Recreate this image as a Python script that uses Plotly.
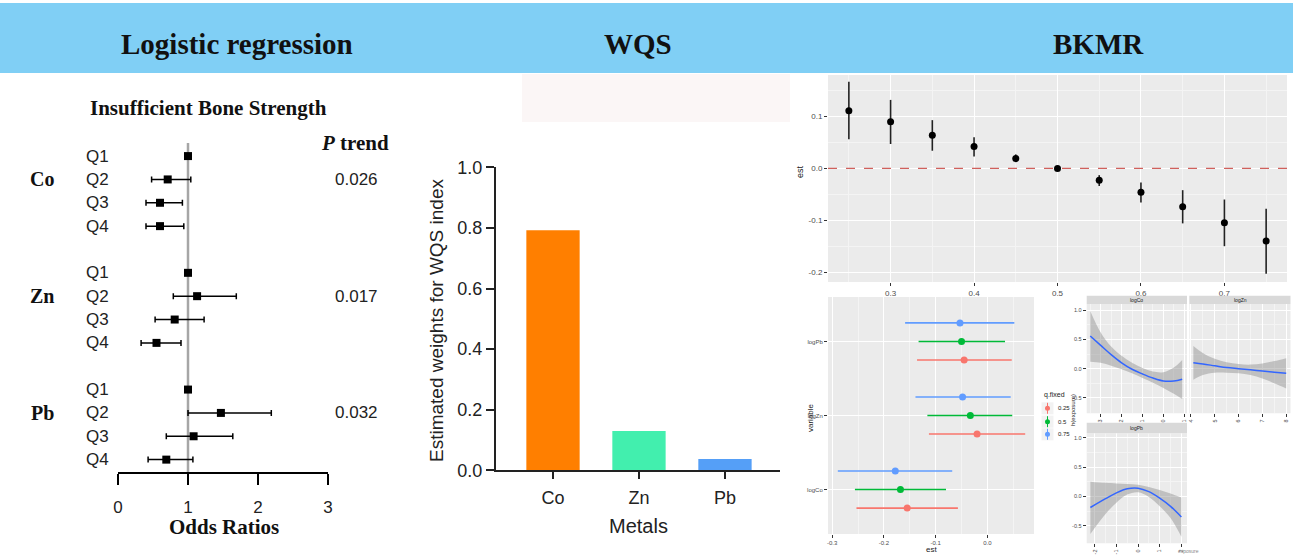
import plotly.graph_objects as go

W, H = 1293, 560
def px(x): return x / W
def py(y): return 1 - y / H

SANS = "Liberation Sans"
SERIF = "Liberation Serif"

# ---------------- data: logistic regression (odds ratios) ----------------
metals = ["Co", "Zn", "Pb"]
quartiles = ["Q1", "Q2", "Q3", "Q4"]
or_co = [1.00, 0.71, 0.60, 0.60]
lo_co = [1.00, 0.48, 0.40, 0.40]
hi_co = [1.00, 1.04, 0.92, 0.94]
or_zn = [1.00, 1.13, 0.81, 0.55]
lo_zn = [1.00, 0.79, 0.53, 0.33]
hi_zn = [1.00, 1.69, 1.23, 0.90]
or_pb = [1.00, 1.47, 1.08, 0.69]
lo_pb = [1.00, 1.00, 0.69, 0.43]
hi_pb = [1.00, 2.19, 1.64, 1.07]
p_trend = ["0.026", "0.017", "0.032"]
or_ticks = [0, 1, 2, 3]

# ---------------- data: WQS ----------------
wqs_metals = ["Co", "Zn", "Pb"]
wqs_weights = [0.792, 0.130, 0.037]
wqs_colors = ["#FF7F00", "#42EFAE", "#559FF7"]

# ---------------- data: BKMR overall ----------------
bkmr_quantiles = [0.25, 0.30, 0.35, 0.40, 0.45, 0.50, 0.55, 0.60, 0.65, 0.70, 0.75]
bkmr_est = [0.111, 0.090, 0.064, 0.042, 0.019, 0.000, -0.023, -0.046, -0.074, -0.105, -0.140]
bkmr_lo = [0.056, 0.047, 0.034, 0.023, 0.012, 0.000, -0.034, -0.066, -0.106, -0.150, -0.203]
bkmr_hi = [0.167, 0.132, 0.093, 0.060, 0.027, 0.000, -0.013, -0.027, -0.042, -0.060, -0.078]

# ---------------- data: BKMR single-variable effects ----------------
variables = ["logCo", "logZn", "logPb"]
q_fixed = ["0.25", "0.5", "0.75"]
q_colors = ["#F8766D", "#00BA38", "#619CFF"]
est_q25 = [-0.155, -0.020, -0.045]
lo_q25 = [-0.253, -0.113, -0.136]
hi_q25 = [-0.057, 0.073, 0.047]
est_q50 = [-0.168, -0.033, -0.050]
lo_q50 = [-0.256, -0.116, -0.133]
hi_q50 = [-0.080, 0.048, 0.034]
est_q75 = [-0.178, -0.048, -0.053]
lo_q75 = [-0.289, -0.139, -0.159]
hi_q75 = [-0.068, 0.045, 0.052]

# ---------------- data: BKMR exposure-response ----------------
co_x = [-3.5, -3.0, -2.5, -2.0, -1.5, -1.0, -0.5, 0.0, 0.5, 0.9]
co_h = [0.56, 0.40, 0.24, 0.10, -0.01, -0.09, -0.16, -0.21, -0.21, -0.18]
co_hi = [0.99, 0.62, 0.38, 0.22, 0.10, 0.01, -0.05, -0.06, 0.02, 0.15]
co_lo = [0.12, 0.10, 0.05, -0.01, -0.08, -0.16, -0.24, -0.33, -0.43, -0.52]
zn_x = [4.1, 4.5, 5.0, 5.5, 6.0, 6.5, 7.0, 7.5, 8.0]
zn_h = [0.10, 0.08, 0.05, 0.02, 0.00, -0.02, -0.04, -0.06, -0.08]
zn_hi = [0.39, 0.27, 0.17, 0.11, 0.08, 0.07, 0.09, 0.13, 0.18]
zn_lo = [-0.19, -0.11, -0.07, -0.07, -0.08, -0.11, -0.17, -0.25, -0.34]
pb_x = [-2.2, -1.5, -1.0, -0.5, 0.0, 0.5, 1.0, 1.5, 2.0]
pb_h = [-0.19, -0.04, 0.06, 0.13, 0.14, 0.08, -0.03, -0.17, -0.35]
pb_hi = [0.25, 0.23, 0.22, 0.21, 0.20, 0.16, 0.11, 0.05, -0.02]
pb_lo = [-0.64, -0.30, -0.11, 0.03, 0.07, -0.01, -0.17, -0.37, -0.69]

fig = go.Figure()

# ---- forest plot ----
for m, (est, lo, hi) in enumerate(zip([or_co, or_zn, or_pb], [lo_co, lo_zn, lo_pb], [hi_co, hi_zn, hi_pb])):
    rows = [5 * m + q for q in range(len(quartiles))]
    fig.add_trace(go.Scatter(
        x=est, y=rows, mode="markers",
        marker=dict(symbol="square", size=8, color="black"),
        error_x=dict(type="data", symmetric=False,
                     array=[h - e for h, e in zip(hi, est)],
                     arrayminus=[e - l for e, l in zip(est, lo)],
                     color="black", thickness=1.5, width=3),
        xaxis="x", yaxis="y", showlegend=False, cliponaxis=False, hoverinfo="skip"))

# ---- WQS bars ----
fig.add_trace(go.Bar(x=wqs_metals, y=wqs_weights, marker=dict(color=wqs_colors, line=dict(width=0)),
                     width=0.62, xaxis="x2", yaxis="y2", showlegend=False, hoverinfo="skip"))

# ---- BKMR overall ----
fig.add_trace(go.Scatter(
    x=bkmr_quantiles, y=bkmr_est, mode="markers",
    marker=dict(size=7, color="black"),
    error_y=dict(type="data", symmetric=False,
                 array=[h - e for h, e in zip(bkmr_hi, bkmr_est)],
                 arrayminus=[e - l for e, l in zip(bkmr_est, bkmr_lo)],
                 color="#222222", thickness=1.6, width=0),
    xaxis="x3", yaxis="y3", showlegend=False, hoverinfo="skip"))

# ---- BKMR single-variable ----
offsets = [-0.25, 0.0, 0.25]
for qi, (est, lo, hi) in enumerate(zip([est_q25, est_q50, est_q75], [lo_q25, lo_q50, lo_q75], [hi_q25, hi_q50, hi_q75])):
    ys = [i + 1 + offsets[qi] for i in range(len(variables))]
    fig.add_trace(go.Scatter(
        x=est, y=ys, mode="markers",
        marker=dict(size=7, color=q_colors[qi]),
        error_x=dict(type="data", symmetric=False,
                     array=[h - e for h, e in zip(hi, est)],
                     arrayminus=[e - l for e, l in zip(est, lo)],
                     color=q_colors[qi], thickness=1.6, width=0),
        xaxis="x4", yaxis="y4", showlegend=False, hoverinfo="skip"))

# ---- BKMR exposure-response facets ----
for (xs, h, hi, lo, xa, ya) in [(co_x, co_h, co_hi, co_lo, "x5", "y5"),
                                (zn_x, zn_h, zn_hi, zn_lo, "x6", "y6"),
                                (pb_x, pb_h, pb_hi, pb_lo, "x7", "y7")]:
    fig.add_trace(go.Scatter(x=xs, y=lo, mode="lines", line=dict(width=0, shape="spline"),
                             xaxis=xa, yaxis=ya, showlegend=False, hoverinfo="skip"))
    fig.add_trace(go.Scatter(x=xs, y=hi, mode="lines", line=dict(width=0, shape="spline"),
                             fill="tonexty", fillcolor="rgba(140,140,140,0.45)",
                             xaxis=xa, yaxis=ya, showlegend=False, hoverinfo="skip"))
    fig.add_trace(go.Scatter(x=xs, y=h, mode="lines", line=dict(width=1.5, color="#3366FF", shape="spline"),
                             xaxis=xa, yaxis=ya, showlegend=False, hoverinfo="skip"))

# ---------------- axes ----------------
gg_font8 = dict(family=SANS, size=8, color="#4D4D4D")
gg_font6 = dict(family=SANS, size=6, color="#4D4D4D")
gg_font5 = dict(family=SANS, size=5.5, color="#4D4D4D")

def gg_axis(**kw):
    d = dict(showgrid=True, gridcolor="white", gridwidth=1, zeroline=False, showline=False,
             ticks="outside", ticklen=3, tickwidth=1, tickcolor="#333333", automargin=False)
    d.update(kw)
    return d

layout = dict(
    width=W, height=H, margin=dict(l=0, r=0, t=0, b=0, pad=0, autoexpand=False),
    paper_bgcolor="white", plot_bgcolor="rgba(0,0,0,0)", showlegend=False,
    xaxis=dict(domain=[px(118), px(328)], range=[0, 3], anchor="y", automargin=False,
               showline=True, linecolor="black", linewidth=2, ticks="outside", ticklen=11,
               tickwidth=2, tickcolor="black", tickvals=or_ticks, ticklabelstandoff=8,
               tickfont=dict(family=SANS, size=17, color="#222"), showgrid=False, zeroline=False),
    yaxis=dict(domain=[py(472), py(143)], range=[13.53, -0.56], anchor="x", visible=False, automargin=False),
    xaxis2=dict(domain=[px(496), px(780)], anchor="y2", type="category", range=[-0.663, 2.64],
                showline=True, linecolor="#222", linewidth=2, ticks="outside", ticklen=7, tickwidth=2,
                tickcolor="#222", tickfont=dict(family=SANS, size=18, color="#222"), showgrid=False,
                zeroline=False, ticklabelstandoff=3, automargin=False),
    yaxis2=dict(domain=[py(470.3), py(167.3)], anchor="x2", range=[0, 1], dtick=0.2, tick0=0,
                tickformat=".1f", showline=True, linecolor="#222", linewidth=2, ticks="outside",
                ticklen=8, tickwidth=2, tickcolor="#222", automargin=False,
                tickfont=dict(family=SANS, size=18, color="#222"), showgrid=False, zeroline=False),
    xaxis3=gg_axis(domain=[px(828), px(1287)], anchor="y3", range=[0.225, 0.775],
                   tickvals=[0.3, 0.4, 0.5, 0.6, 0.7], ticktext=["0.3", "0.4", "0.5", "0.6", "0.7"],
                   tickfont=gg_font8,
                   minor=dict(tickvals=[0.25, 0.35, 0.45, 0.55, 0.65, 0.75], showgrid=True,
                              gridcolor="#F4F4F4", gridwidth=0.6)),
    yaxis3=gg_axis(domain=[py(282), py(75)], anchor="x3", range=[-0.219, 0.18],
                   tickvals=[-0.2, -0.1, 0.0, 0.1], ticktext=["-0.2", "-0.1", "0.0", "0.1"],
                   tickfont=gg_font8,
                   minor=dict(tickvals=[-0.15, -0.05, 0.05, 0.15], showgrid=True,
                              gridcolor="#F4F4F4", gridwidth=0.6)),
    xaxis4=gg_axis(domain=[px(828), px(1034)], anchor="y4", range=[-0.308, 0.09],
                   tickvals=[-0.3, -0.2, -0.1, 0.0], ticktext=["-0.3", "-0.2", "-0.1", "0.0"],
                   tickfont=gg_font6,
                   minor=dict(tickvals=[-0.25, -0.15, -0.05, 0.05], showgrid=True,
                              gridcolor="#F4F4F4", gridwidth=0.6)),
    yaxis4=gg_axis(domain=[py(534), py(297)], anchor="x4", range=[0.4, 3.6],
                   tickvals=[1, 2, 3], ticktext=variables, tickfont=gg_font6),
    xaxis5=gg_axis(domain=[px(1086.7), px(1187)], anchor="y5", range=[-3.67, 1.13],
                   tickvals=[-3, -2, -1, 0, 1], ticktext=["-3", "-2", "-1", "0", "1"], tickfont=gg_font5,
                   tickangle=-90,
                   minor=dict(tickvals=[-3.5, -2.5, -1.5, -0.5, 0.5], showgrid=True,
                              gridcolor="#F4F4F4", gridwidth=0.5)),
    yaxis5=gg_axis(domain=[py(413.3), py(304)], anchor="x5", range=[-0.764, 1.108],
                   tickvals=[-0.5, 0, 0.5, 1.0], ticktext=["-0.5", "0.0", "0.5", "1.0"], tickfont=gg_font5,
                   minor=dict(tickvals=[-0.25, 0.25, 0.75], showgrid=True, gridcolor="#F4F4F4", gridwidth=0.5)),
    xaxis6=gg_axis(domain=[px(1189.3), px(1290.5)], anchor="y6", range=[3.93, 8.18],
                   tickvals=[4, 5, 6, 7, 8], ticktext=["4", "5", "6", "7", "8"], tickfont=gg_font5,
                   tickangle=-90,
                   minor=dict(tickvals=[4.5, 5.5, 6.5, 7.5], showgrid=True, gridcolor="#F4F4F4", gridwidth=0.5)),
    yaxis6=gg_axis(domain=[py(413.3), py(304)], anchor="x6", range=[-0.764, 1.108],
                   tickvals=[-0.5, 0, 0.5, 1.0], showticklabels=False, ticks="",
                   minor=dict(tickvals=[-0.25, 0.25, 0.75], showgrid=True, gridcolor="#F4F4F4", gridwidth=0.5)),
    xaxis7=gg_axis(domain=[px(1086.7), px(1187)], anchor="y7", range=[-2.37, 2.26],
                   tickvals=[-2, -1, 0, 1, 2], ticktext=["-2", "-1", "0", "1", "2"], tickfont=gg_font5,
                   tickangle=-90,
                   minor=dict(tickvals=[-1.5, -0.5, 0.5, 1.5], showgrid=True, gridcolor="#F4F4F4", gridwidth=0.5)),
    yaxis7=gg_axis(domain=[py(543.3), py(433.3)], anchor="x7", range=[-0.80, 1.075],
                   tickvals=[-0.5, 0, 0.5, 1.0], ticktext=["-0.5", "0.0", "0.5", "1.0"], tickfont=gg_font5,
                   minor=dict(tickvals=[-0.25, 0.25, 0.75], showgrid=True, gridcolor="#F4F4F4", gridwidth=0.5)),
)
fig.update_layout(**layout)

# ---------------- shapes ----------------
shapes = []
# header band
shapes.append(dict(type="rect", xref="paper", yref="paper", x0=0, x1=1, y0=py(73), y1=py(3),
                   fillcolor="#80CFF5", line=dict(width=0), layer="below"))
# faint box above WQS
shapes.append(dict(type="rect", xref="paper", yref="paper", x0=px(522), x1=px(790), y0=py(122), y1=py(74),
                   fillcolor="#FBF6F6", line=dict(width=0), layer="below"))
# OR = 1 reference line
shapes.append(dict(type="line", xref="x", yref="paper", x0=1, x1=1, y0=py(472), y1=py(143),
                   line=dict(color="#A6A6A6", width=2.5), layer="below"))
# ggplot panel backgrounds
for ax in ["3", "4", "5", "6", "7"]:
    shapes.append(dict(type="rect", xref=f"x{ax} domain", yref=f"y{ax} domain", x0=0, x1=1, y0=0, y1=1,
                       fillcolor="#EBEBEB", line=dict(width=0), layer="below"))
# dashed zero line in BKMR overall
shapes.append(dict(type="line", xref="x3 domain", yref="y3", x0=0, x1=1, y0=0, y1=0,
                   line=dict(color="#D0605C", width=1.2, dash="dash")))
# facet strips
for (x0, x1, y0, y1) in [(1086.7, 1187, 304, 295.7), (1189.3, 1290.5, 304, 295.7), (1086.7, 1187, 433.3, 422.7)]:
    shapes.append(dict(type="rect", xref="paper", yref="paper", x0=px(x0), x1=px(x1), y0=py(y0), y1=py(y1),
                       fillcolor="#D9D9D9", line=dict(width=0)))
# manual legend keys for q.fixed
legend_y = [408.3, 421.7, 434.3]
for qi in range(len(q_fixed)):
    yk = legend_y[qi]
    shapes.append(dict(type="rect", xref="paper", yref="paper", x0=px(1041.5), x1=px(1053.5),
                       y0=py(yk + 6), y1=py(yk - 6), fillcolor="#F2F2F2", line=dict(width=0)))
    shapes.append(dict(type="line", xref="paper", yref="paper", x0=px(1047.5), x1=px(1047.5),
                       y0=py(yk + 5.5), y1=py(yk - 5.5), line=dict(color=q_colors[qi], width=1)))
    shapes.append(dict(type="circle", xref="paper", yref="paper", x0=px(1045), x1=px(1050),
                       y0=py(yk + 2.5), y1=py(yk - 2.5), fillcolor=q_colors[qi], line=dict(width=0)))
fig.update_layout(shapes=shapes)

# ---------------- annotations ----------------
ann = []
def text(x, y, t, size, family=SANS, color="#111", xanchor="center", yanchor="middle", angle=0, xref="paper", yref="paper"):
    ann.append(dict(x=x, y=y, xref=xref, yref=yref, text=t, showarrow=False, xanchor=xanchor, yanchor=yanchor,
                    textangle=angle, font=dict(family=family, size=size, color=color)))

# header titles
text(px(237), py(44), "<b>Logistic regression</b>", 29, SERIF)
text(px(638), py(44), "<b>WQS</b>", 29, SERIF)
text(px(1098), py(44), "<b>BKMR</b>", 29, SERIF)

# forest annotations
text(px(208), py(108), "<b>Insufficient Bone Strength</b>", 21, SERIF)
text(px(355), py(143), "<b><i>P</i> trend</b>", 21, SERIF)
for m, met in enumerate(metals):
    text(px(42), 5 * m + 1, f"<b>{met}</b>", 20, SERIF, yref="y")
    text(px(356), 5 * m + 1, p_trend[m], 17, SANS, color="#222", yref="y")
    for q, ql in enumerate(quartiles):
        text(px(84), 5 * m + q, ql, 17, SANS, color="#222", xanchor="left", yref="y")
text(px(224), py(527), "<b>Odds Ratios</b>", 21, SERIF)

# WQS annotations
text(px(436), py(321), "Estimated weights for WQS index", 19, SANS, color="#222", angle=-90)
text(px(638), py(526), "Metals", 20, SANS, color="#222")

# BKMR annotations
text(px(800), py(172), "est", 9, SANS, color="#222", angle=-90)
text(px(810), py(417), "variable", 8, SANS, color="#222", angle=-90)
text(px(931), py(549), "est", 8, SANS, color="#222")
text(px(1042), py(395), "q.fixed", 7, SANS, color="#222", xanchor="left")
for qi, ql in enumerate(q_fixed):
    text(px(1056), py(legend_y[qi]), ql, 6, SANS, color="#222", xanchor="left")
text(px(1073), py(410), "h(exposure)", 6, SANS, color="#222", angle=-90)
text(px(1136.8), py(300), "logCo", 5, SANS, color="#1A1A1A")
text(px(1240), py(300), "logZn", 5, SANS, color="#1A1A1A")
text(px(1136.8), py(428), "logPb", 5, SANS, color="#1A1A1A")
text(px(1188), py(551), "exposure", 5, SANS, color="#888")

fig.update_layout(annotations=ann)
fig.write_html("out.html", config={"displayModeBar": False},
               post_script="document.body.style.margin='0';document.body.style.padding='0';"
                           "document.documentElement.style.overflow='hidden';")
